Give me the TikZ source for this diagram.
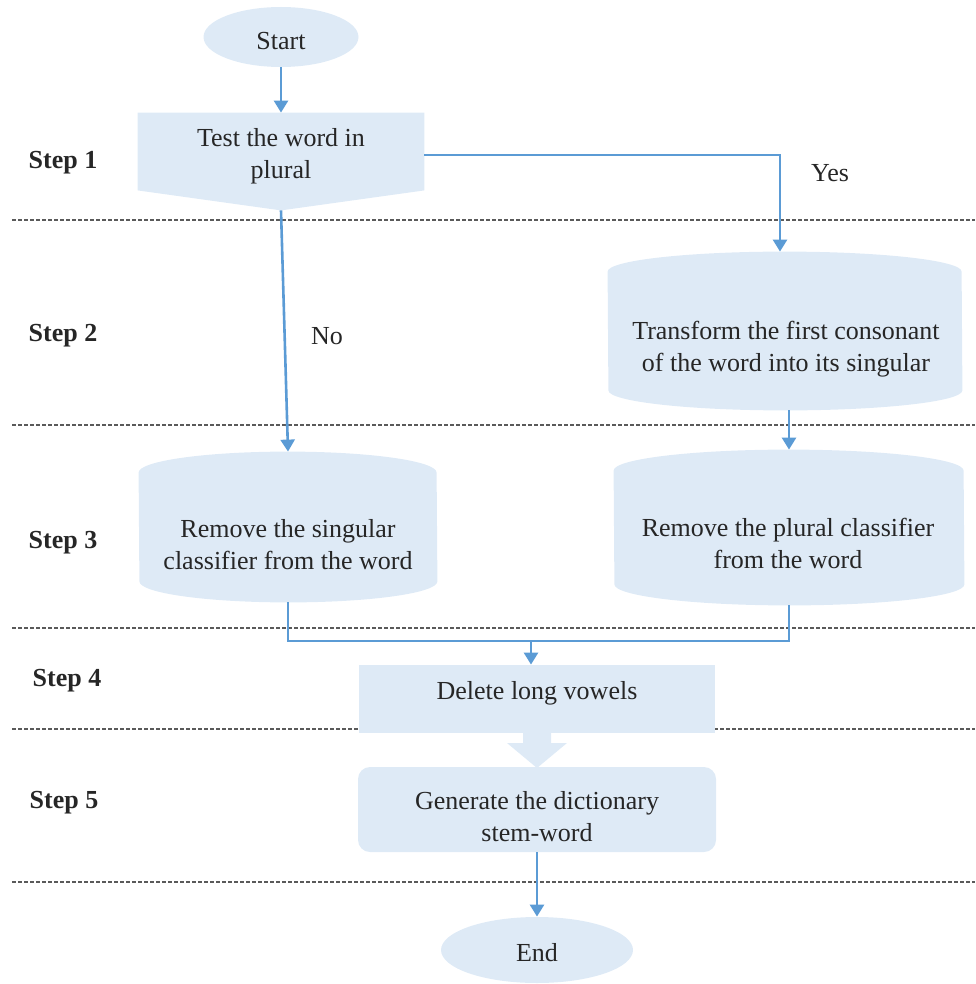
\documentclass[tikz,border=0pt]{standalone}
\usepackage{fontspec}
\setmainfont{Liberation Serif}
\usetikzlibrary{shapes.geometric,arrows.meta}
\definecolor{boxfill}{RGB}{222,234,246}
\definecolor{conncol}{RGB}{91,155,213}
\definecolor{sepcol}{RGB}{90,90,90}
\begin{document}
\begin{tikzpicture}[x=0.5pt,y=-0.5pt,
  txt/.style={font=\fontsize{13}{16}\selectfont, align=center, text=black!85, inner sep=0pt},
  steplbl/.style={font=\fontsize{13}{16}\selectfont\bfseries, text=black!85, inner sep=0pt},
  sep/.style={draw=sepcol, line width=1.1pt, dash pattern=on 2pt off 1pt},
  conn/.style={draw=conncol, line width=1.3pt},
  arr/.style={conn, -{Triangle[width=7pt,length=6pt]}},
  holder/.style={draw=none, fill=none, inner sep=0pt}]
\useasboundingbox (0,0) rectangle (975,984);

% separators
\foreach \yy in {220,425,628,729,882} \draw[sep] (12,\yy) -- (975,\yy);

% Start
\node[ellipse, fill=boxfill, minimum width=77.5pt, minimum height=30pt, txt] (start) at (281,37) {};
\node[txt] (startt) at (281,41) {Start};

% Test (pentagon)
\node[holder, minimum width=143pt, minimum height=48.5pt] (test) at (281,161.5) {};
\fill[boxfill] (test.north west) -- (test.north east) -- ([yshift=10pt]test.south east) -- (test.south) -- ([yshift=10pt]test.south west) -- cycle;
\node[txt] (testt) at (281,156) {Test the word in\\plural};

% Transform barrel
\node[holder, minimum width=177pt, minimum height=79pt] (tr) at (785,331) {};
\fill[boxfill] ([yshift=-10pt]tr.north west) arc[start angle=180,end angle=0,x radius=88.5pt,y radius=10pt] -- ([yshift=10pt]tr.south east) arc[start angle=0,end angle=-180,x radius=88.5pt,y radius=10pt] -- cycle;
\node[txt] (trt) at (786,349) {Transform the first consonant\\of the word into its singular};

% Remove singular barrel
\node[holder, minimum width=149pt, minimum height=75pt] (rs) at (288,527) {};
\fill[boxfill] ([yshift=-10.5pt]rs.north west) arc[start angle=180,end angle=0,x radius=74.5pt,y radius=10.5pt] -- ([yshift=10.5pt]rs.south east) arc[start angle=0,end angle=-180,x radius=74.5pt,y radius=10.5pt] -- cycle;
\node[txt] (rst) at (288,545) {Remove the singular\\classifier from the word};

% Remove plural barrel
\node[holder, minimum width=175pt, minimum height=77.5pt] (pl) at (789,527.5) {};
\fill[boxfill] ([yshift=-10.5pt]pl.north west) arc[start angle=180,end angle=0,x radius=87.5pt,y radius=10.5pt] -- ([yshift=10.5pt]pl.south east) arc[start angle=0,end angle=-180,x radius=87.5pt,y radius=10.5pt] -- cycle;
\node[txt] (plt) at (788,543) {Remove the plural classifier\\from the word};

% Delete box
\node[fill=boxfill, inner sep=0pt, minimum width=178pt, minimum height=34pt] (del) at (537,699) {};
\node[txt] (delt) at (537,693) {Delete long vowels};

% block arrow
\fill[boxfill] (523,733) -- (551,733) -- (551,743) -- (567,743) -- (537,768) -- (507,743) -- (523,743) -- cycle;

% Generate box
\node[fill=boxfill, rounded corners=6pt, inner sep=0pt, minimum width=179pt, minimum height=42.5pt] (gen) at (537,809.5) {};
\node[txt] (gent) at (537,817) {Generate the dictionary\\stem-word};

% End
\node[ellipse, fill=boxfill, minimum width=96pt, minimum height=33pt, txt] (end) at (537,950) {};
\node[txt] (endt) at (537,953) {End};

% connectors
\draw[arr] (start.south) -- (test.north);
\draw[arr] (test.south) -- (rs.north);
\draw[arr] ([yshift=3.25pt]test.east) -| ([xshift=-2.5pt]tr.north);
\draw[arr] (tr.south -| pl.north) -- (pl.north);
\coordinate (m) at (531,641);
\draw[conn] (rs.south) |- (m);
\draw[conn] (pl.south) |- (m);
\draw[arr] (m) -- (m |- del.north);
\draw[arr] (gen.south) -- (end.north);

% labels
\node[txt] (yes) at (830,173) {Yes};
\node[txt] (no) at (327,336) {No};
\node[steplbl] (s1) at (63,163) {Step 1};
\node[steplbl] (s2) at (63,336) {Step 2};
\node[steplbl] (s3) at (63,543) {Step 3};
\node[steplbl] (s4) at (67,681) {Step 4};
\node[steplbl] (s5) at (64,803) {Step 5};
\end{tikzpicture}
\end{document}
